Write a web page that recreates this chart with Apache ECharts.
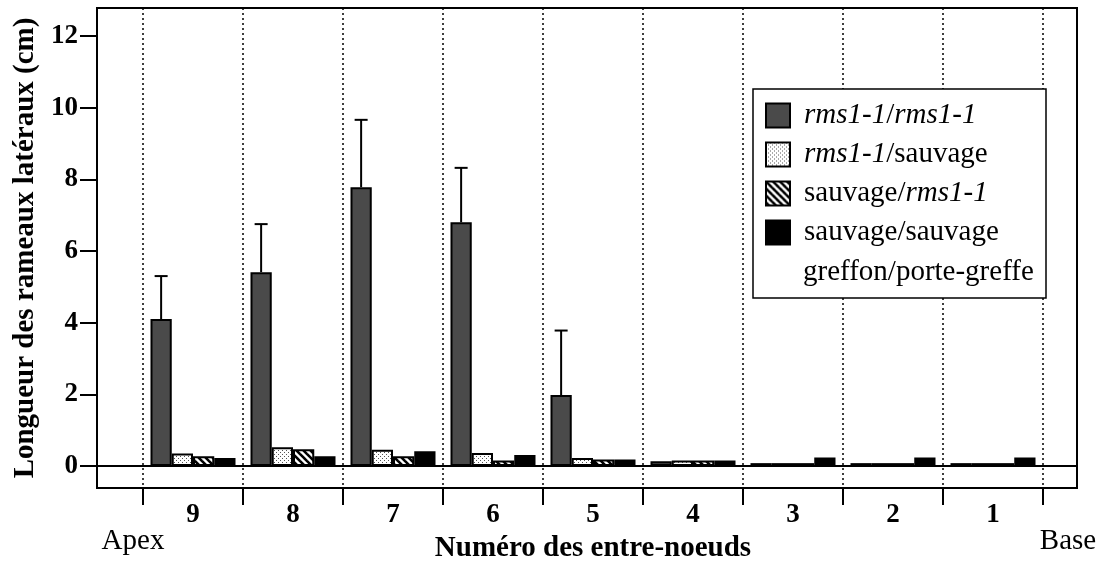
<!DOCTYPE html>
<html>
<head>
<meta charset="utf-8">
<script src="https://cdn.jsdelivr.net/npm/echarts@6/dist/echarts.min.js"></script>
<style>
html,body{margin:0;padding:0;background:#fff;}
#chart{width:1103px;height:562px;}
</style>
</head>
<body>
<div id="chart"></div>
<script>
// ---- data ----
const categories = ['9', '8', '7', '6', '5', '4', '3', '2', '1'];
const seriesNames = ['rms1-1/rms1-1', 'rms1-1/sauvage', 'sauvage/rms1-1', 'sauvage/sauvage'];
const rmsRms   = [4.10, 5.41, 7.78, 6.80, 1.98, 0.13, 0.08, 0.08, 0.08];
const rmsRmsUp = [5.30, 6.75, 9.66, 8.32, 3.78, null, null, null, null];
const rmsSauv  = [0.35, 0.52, 0.45, 0.36, 0.22, 0.15, 0.08, 0.08, 0.08];
const sauvRms  = [0.27, 0.47, 0.27, 0.15, 0.18, 0.15, 0.08, 0.08, 0.08];
const sauvSauv = [0.22, 0.27, 0.41, 0.31, 0.18, 0.15, 0.24, 0.24, 0.24];
const yTicks   = [0, 2, 4, 6, 8, 10, 12];
const xTitle = 'Numéro des entre-noeuds';
const yTitle = 'Longueur des rameaux latéraux (cm)';
const legendExtra = 'greffon/porte-greffe';
const leftEnd = 'Apex', rightEnd = 'Base';

// ---- patterns ----
function dotPattern() {
  const c = document.createElement('canvas'); c.width = 4; c.height = 4;
  const g = c.getContext('2d');
  g.fillStyle = '#fff'; g.fillRect(0, 0, 4, 4);
  g.fillStyle = '#555';
  g.fillRect(0, 0, 1, 1); g.fillRect(2, 2, 1, 1);
  return c;
}
function hatchPattern() {
  const s = 7;
  const c = document.createElement('canvas'); c.width = s; c.height = s;
  const g = c.getContext('2d');
  g.fillStyle = '#fff'; g.fillRect(0, 0, s, s);
  g.strokeStyle = '#000'; g.lineWidth = 2.6;
  for (let k = -1; k <= 1; k++) {
    g.beginPath(); g.moveTo(k * s - 1, -1); g.lineTo(k * s + s + 1, s + 1); g.stroke();
  }
  return c;
}

const FONT = '"Liberation Serif", "Times New Roman", serif';
const yMin = -0.614, yMax = 12.781;
const catGapPct = 15;

const chart = echarts.init(document.getElementById('chart'), null, {renderer: 'canvas'});

function errItem(params, api) {
  const idx = api.value(0);
  const top = api.coord([idx, api.value(1)]);
  const base = api.coord([idx, api.value(2)]);
  const catW = api.size([1, 0])[0];
  const cluster = catW * (1 - catGapPct / 100);
  const barW = cluster / 4;
  const cx = top[0] - cluster / 2 + barW / 2;
  const st = {stroke: '#000', lineWidth: 2};
  return {
    type: 'group',
    children: [
      {type: 'line', shape: {x1: cx, y1: base[1], x2: cx, y2: top[1]}, style: st},
      {type: 'line', shape: {x1: cx - 6.5, y1: top[1], x2: cx + 6.5, y2: top[1]}, style: st}
    ]
  };
}

const errData = [];
rmsRmsUp.forEach((v, i) => { if (v != null) errData.push([i, v, rmsRms[i]]); });

const LFS = 29;
const legendRich = {
  i: {fontFamily: FONT, fontSize: LFS, fontStyle: 'italic', color: '#000'},
  n: {fontFamily: FONT, fontSize: LFS, color: '#000'}
};
function legendFmt(name) {
  return name.split('/').map(p => (p === 'sauvage' ? '{n|' + p + '}' : '{i|' + p + '}')).join('{n|/}');
}

const barStyleBase = {borderColor: '#000', borderWidth: 2};
const option = {
  animation: false,
  backgroundColor: '#fff',
  grid: [
    {left: 97, right: 26, top: 8, bottom: 74, show: true, borderColor: '#000', borderWidth: 2,
     backgroundColor: 'transparent', z: 3, containLabel: false, outerBoundsMode: 'none'},
    {left: 143, right: 60, top: 8, bottom: 74, show: false, containLabel: false, outerBoundsMode: 'none'}
  ],
  xAxis: [
    {gridIndex: 0, type: 'value', min: 0, max: 1, show: false},
    {
      gridIndex: 1, type: 'category', data: categories, boundaryGap: true, position: 'bottom',
      axisLine: {show: false, onZero: false},
      axisTick: {show: true, length: 17, interval: 0, lineStyle: {color: '#000', width: 2}},
      axisLabel: {interval: 0, margin: 14, color: '#000', fontFamily: FONT, fontWeight: 'bold', fontSize: 27},
      splitLine: {show: true, interval: 0, lineStyle: {color: '#000', width: 1.5, type: [2, 3]}},
      name: xTitle, nameLocation: 'middle', nameGap: 46,
      nameTextStyle: {color: '#000', fontFamily: FONT, fontWeight: 'bold', fontSize: 29}
    }
  ],
  yAxis: [
    {
      gridIndex: 0, type: 'value', min: yMin, max: yMax,
      axisLine: {show: true, onZero: false, lineStyle: {color: '#000', width: 2}},
      axisTick: {show: true, length: 17, customValues: yTicks, lineStyle: {color: '#000', width: 2}},
      axisLabel: {customValues: yTicks, margin: 19, color: '#000', fontFamily: FONT, fontWeight: 'bold', fontSize: 27},
      splitLine: {show: false},
      name: yTitle, nameLocation: 'middle', nameGap: 55,
      nameTextStyle: {color: '#000', fontFamily: FONT, fontWeight: 'bold', fontSize: 29}
    },
    {gridIndex: 1, type: 'value', min: yMin, max: yMax, show: false, splitLine: {show: false}}
  ],
  legend: {
    data: seriesNames,
    orient: 'vertical', left: 765, top: 101, padding: 0,
    itemWidth: 24, itemHeight: 24, itemGap: 10, icon: 'rect',
    formatter: legendFmt,
    textStyle: {rich: legendRich, padding: [0, 0, 0, 9]},
    z: 20
  },
  graphic: [
    {type: 'rect', z: 15, shape: {x: 753, y: 89, width: 293, height: 209},
     style: {fill: '#fff', stroke: '#000', lineWidth: 1.5}},
    {type: 'text', z: 25, x: 803, y: 272,
     style: {text: legendExtra, fill: '#000', font: LFS + 'px ' + FONT, textVerticalAlign: 'middle'}},
    {type: 'text', z: 25, x: 133, y: 541,
     style: {text: leftEnd, fill: '#000', font: '29px ' + FONT, textAlign: 'center', textVerticalAlign: 'middle'}},
    {type: 'text', z: 25, x: 1068, y: 541,
     style: {text: rightEnd, fill: '#000', font: '29px ' + FONT, textAlign: 'center', textVerticalAlign: 'middle'}}
  ],
  series: [
    {
      type: 'line', xAxisIndex: 0, yAxisIndex: 0, data: [], silent: true,
      markLine: {silent: true, symbol: 'none', label: {show: false},
        lineStyle: {color: '#000', width: 2, type: 'solid'}, data: [{yAxis: 0}]}
    },
    {name: seriesNames[0], type: 'bar', xAxisIndex: 1, yAxisIndex: 1, data: rmsRms,
     barGap: '0%', barCategoryGap: catGapPct + '%',
     itemStyle: Object.assign({color: '#4a4a4a'}, barStyleBase)},
    {name: seriesNames[1], type: 'bar', xAxisIndex: 1, yAxisIndex: 1, data: rmsSauv,
     itemStyle: Object.assign({color: {image: dotPattern(), repeat: 'repeat'}}, barStyleBase)},
    {name: seriesNames[2], type: 'bar', xAxisIndex: 1, yAxisIndex: 1, data: sauvRms,
     itemStyle: Object.assign({color: {image: hatchPattern(), repeat: 'repeat'}}, barStyleBase)},
    {name: seriesNames[3], type: 'bar', xAxisIndex: 1, yAxisIndex: 1, data: sauvSauv,
     itemStyle: Object.assign({color: '#000'}, barStyleBase)},
    {type: 'custom', xAxisIndex: 1, yAxisIndex: 1, data: errData, renderItem: errItem,
     encode: {x: 0, y: 1}, z: 5, silent: true}
  ]
};
chart.setOption(option);
</script>
</body>
</html>
